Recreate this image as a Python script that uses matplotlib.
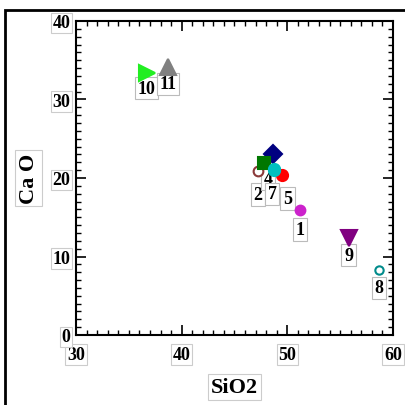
import matplotlib
matplotlib.use("Agg")
import matplotlib.pyplot as plt
from matplotlib.patches import Rectangle
from matplotlib.ticker import MultipleLocator

# sample data
ids = ["1", "2", "3", "4", "5", "6", "7", "8", "9", "10", "11"]
sio2 = [51.2, 47.2, 48.6, 47.8, 49.5, 48.7, 48.7, 58.7, 55.8, 36.7, 38.7]
cao = [15.9, 20.9, 23.1, 21.9, 20.4, 21.1, 21.0, 8.3, 12.3, 33.4, 34.1]
markers = ["o", "o", "D", "s", "o", "o", "o", "o", "v", ">", "^"]
msizes = [7, 7, 9, 8, 8, 8, 8, 6, 11, 12, 12]
colors = ["#cc22cc", "#8b3a3a", "#000080", "#007700", "#ff0000", "#00c0c0",
          "#00c0c0", "#008b8b", "#800080", "#22ee22", "#808080"]
filled = [True, False, True, True, True, True, True, False, True, True, True]
show_label = [True, True, False, True, True, False, True, True, True, True, True]
# label offsets in points (x, y)
offsets = [(0, -14), (0, -17), (0, 0), (3, -11), (4, -17), (0, 0),
           (-1, -17), (0, -13), (0, -12), (0, -11), (0, -12)]

plt.rcParams["font.family"] = ["Liberation Serif", "DejaVu Serif"]
plt.rcParams["font.weight"] = "bold"

fig = plt.figure(figsize=(4.06, 4.06), dpi=100)
ax = fig.add_axes([76 / 406, 70 / 406, 317 / 406, 314 / 406])

fig.patches.append(Rectangle((5 / 406, -0.1), 1.2, 1.1 - 11 / 406,
                             transform=fig.transFigure, fill=False,
                             edgecolor="black", linewidth=2))

for i in range(len(ids)):
    face = colors[i] if filled[i] else "white"
    ax.plot(sio2[i], cao[i], marker=markers[i], markersize=msizes[i],
            markerfacecolor=face, markeredgecolor=colors[i],
            markeredgewidth=1.5, linestyle="none", zorder=3)
    if show_label[i]:
        ax.annotate(ids[i], (sio2[i], cao[i]), xytext=offsets[i],
                    textcoords="offset points", ha="center", va="center",
                    fontsize=13, fontweight="bold", color="black", zorder=2,
                    bbox=dict(facecolor="white", edgecolor="#bbbbbb",
                              boxstyle="square,pad=0.15", linewidth=0.8))

ax.set_xlim(30, 60)
ax.set_ylim(0, 40)
ax.xaxis.set_major_locator(MultipleLocator(10))
ax.xaxis.set_minor_locator(MultipleLocator(1))
ax.yaxis.set_major_locator(MultipleLocator(10))
ax.yaxis.set_minor_locator(MultipleLocator(1))
ax.tick_params(which="both", direction="in", top=True, right=True)
ax.tick_params(which="major", length=7, width=1.2)
ax.tick_params(which="minor", length=3.5, width=1)
ax.tick_params(axis="x", pad=8, labelsize=13)
ax.tick_params(axis="y", pad=4, labelsize=13)
for lab in ax.get_xticklabels() + ax.get_yticklabels():
    lab.set_fontweight("bold")
    lab.set_bbox(dict(facecolor="white", edgecolor="#cccccc",
                      boxstyle="square,pad=0.1", linewidth=0.8))
for sp in ax.spines.values():
    sp.set_linewidth(1.5)

box = dict(facecolor="white", edgecolor="#cccccc", boxstyle="square,pad=0.15",
           linewidth=0.8)
ax.set_xlabel("SiO2", fontsize=16, fontweight="bold", labelpad=10, bbox=box)
ax.set_ylabel("Ca O", fontsize=16, fontweight="bold", labelpad=10, bbox=box)

fig.savefig("out.png", dpi=100)
